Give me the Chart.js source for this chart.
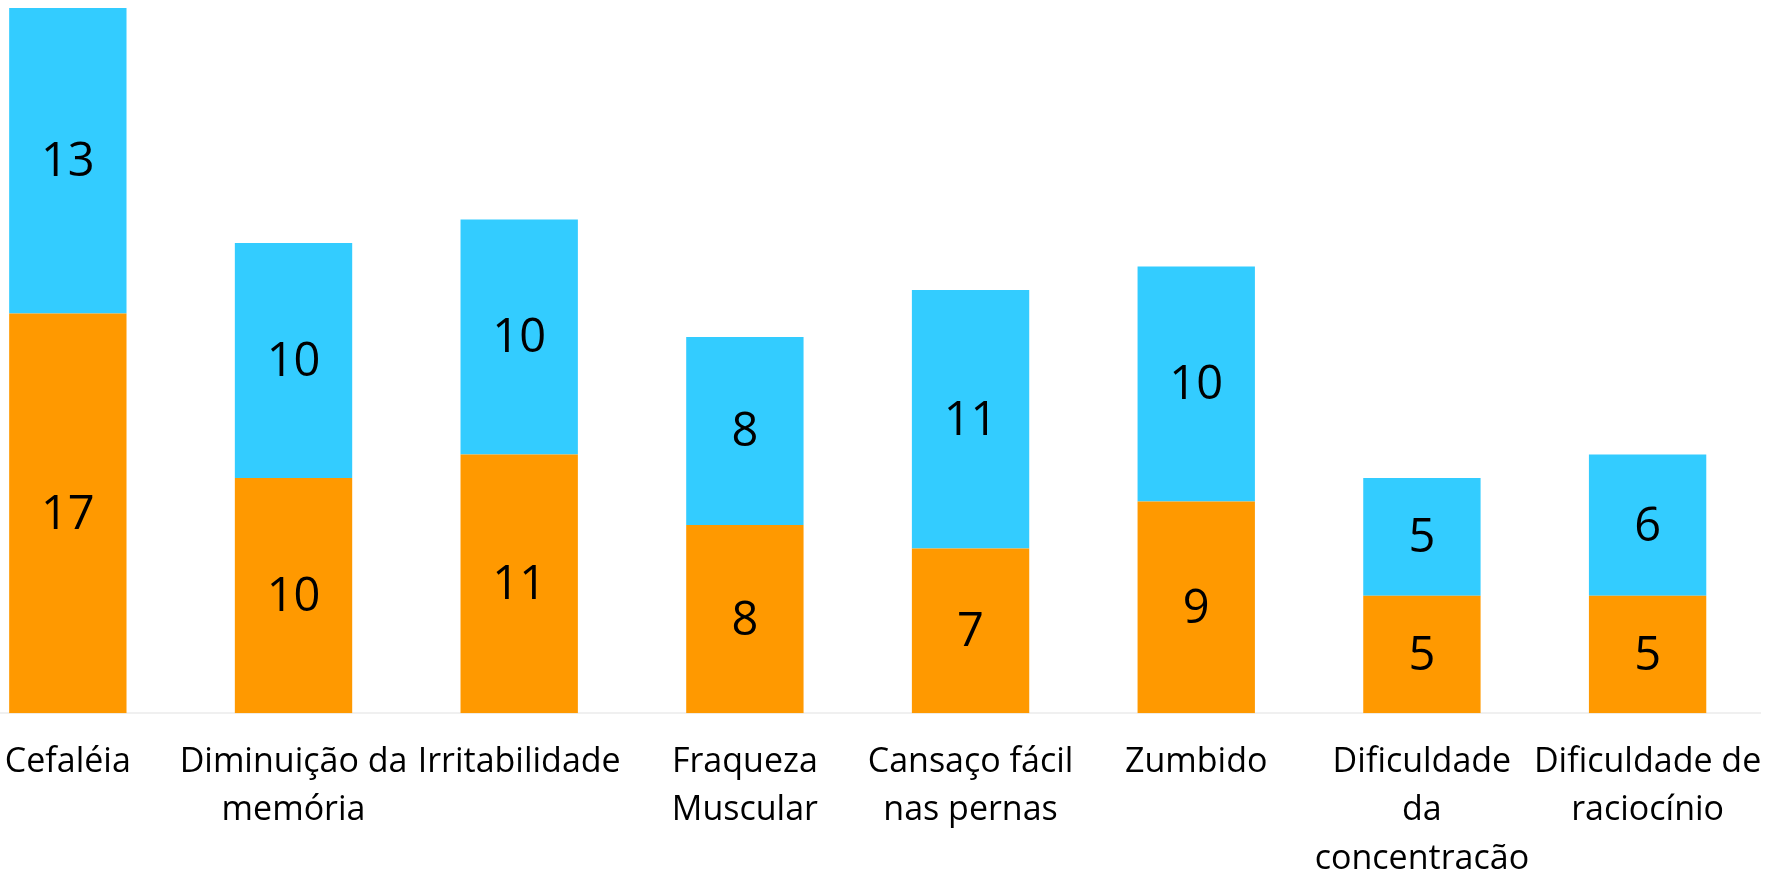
<!DOCTYPE html>
<html>
<head>
<meta charset="utf-8">
<script src="https://cdn.jsdelivr.net/npm/chart.js@4"></script>
<style>
  html, body { margin: 0; padding: 0; background: #fff; overflow: hidden; }
  #wrap { position: absolute; left: -45px; top: 0; width: 1824px; height: 900px; }
</style>
</head>
<body>
<div id="wrap"><canvas id="myChart"></canvas></div>
<script>
const sintomas = [
  "Cefaléia",
  ["Diminuição da", "memória"],
  "Irritabilidade",
  ["Fraqueza", "Muscular"],
  ["Cansaço fácil", "nas pernas"],
  "Zumbido",
  ["Dificuldade", "da", "concentração"],
  ["Dificuldade de", "raciocínio"],
];
const laranja = [17, 10, 11, 8, 7, 9, 5, 5];
const azul = [13, 10, 10, 8, 11, 10, 5, 6];
const yMax = 30;

// writes each segment's value in the middle of its bar piece
const valueLabels = {
  id: "valueLabels",
  afterDatasetsDraw(chart) {
    const ctx = chart.ctx;
    ctx.save();
    ctx.font = "47px 'Open Sans'";
    ctx.fillStyle = "#000";
    ctx.textAlign = "center";
    ctx.textBaseline = "middle";
    chart.data.datasets.forEach((ds, di) => {
      const meta = chart.getDatasetMeta(di);
      meta.data.forEach((bar, i) => {
        const y = (bar.y + bar.base) / 2;
        ctx.fillText(String(ds.data[i]), bar.x, y + 2);
      });
    });
    ctx.restore();
  },
};

new Chart("myChart", {
  type: "bar",
  data: {
    labels: sintomas,
    datasets: [
      { data: laranja, backgroundColor: "#FF9900", barPercentage: 0.52, categoryPercentage: 1 },
      { data: azul, backgroundColor: "#33CCFF", barPercentage: 0.52, categoryPercentage: 1 },
    ],
  },
  options: {
    responsive: true,
    maintainAspectRatio: false,
    animation: false,
    layout: { padding: { top: 8, right: 12, left: 0, bottom: 0 } },
    plugins: { legend: { display: false }, tooltip: { enabled: false } },
    scales: {
      x: {
        stacked: true,
        grid: { display: false },
        border: { display: true, color: "#f0f0f0", width: 2 },
        ticks: {
          autoSkip: false,
          maxRotation: 0,
          padding: 17,
          color: "#000",
          font: { family: "'Open Sans'", size: 34, lineHeight: 1.42 },
        },
      },
      y: { stacked: true, display: false, min: 0, max: yMax },
    },
  },
  plugins: [valueLabels],
});
</script>
</body>
</html>
